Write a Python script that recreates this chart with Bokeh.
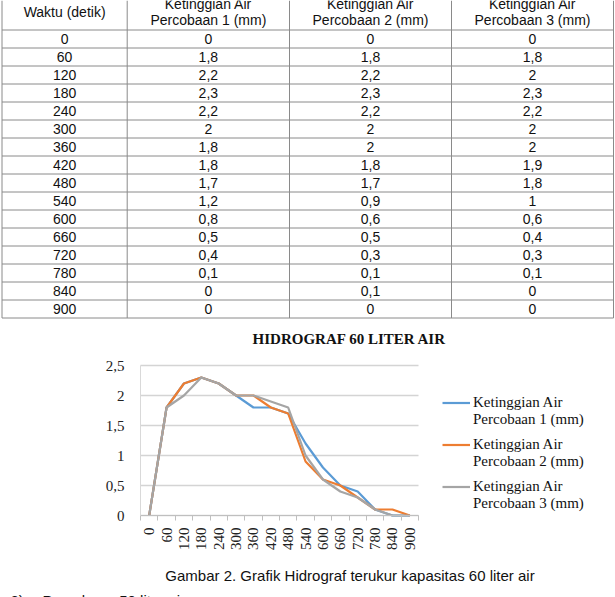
import math
from bokeh.plotting import figure
from bokeh.models import Range1d, FixedTicker, Legend, LegendItem
from bokeh.core.properties import value
from bokeh.embed import file_html
from bokeh.resources import INLINE

# ---------------- data ----------------
waktu = [0, 60, 120, 180, 240, 300, 360, 420, 480, 540, 600, 660, 720, 780, 840, 900]
percobaan1 = [0, 1.8, 2.2, 2.3, 2.2, 2, 1.8, 1.8, 1.7, 1.2, 0.8, 0.5, 0.4, 0.1, 0, 0]
percobaan2 = [0, 1.8, 2.2, 2.3, 2.2, 2, 2, 1.8, 1.7, 0.9, 0.6, 0.5, 0.3, 0.1, 0.1, 0]
percobaan3 = [0, 1.8, 2, 2.3, 2.2, 2, 2, 1.9, 1.8, 1, 0.6, 0.4, 0.3, 0.1, 0, 0]
header_first = "Waktu (detik)"
header_top = "Ketinggian Air"
header_bottom = ["Percobaan 1 (mm)", "Percobaan 2 (mm)", "Percobaan 3 (mm)"]
legend_line1 = ["Ketinggian Air", "Ketinggian Air", "Ketinggian Air"]
legend_line2 = ["Percobaan 1 (mm)", "Percobaan 2 (mm)", "Percobaan 3 (mm)"]
y_ticks = [0, 0.5, 1, 1.5, 2, 2.5]
chart_title = "HIDROGRAF 60 LITER AIR"
caption = "Gambar 2. Grafik Hidrograf terukur kapasitas 60 liter air"
next_num = "2)"
next_text = "Percobaan 50 liter air"
colors = ["#5B9BD5", "#ED7D31", "#A5A5A5"]

def fmt(v):
    return f"{v:g}".replace(".", ",")

SANS = value("Liberation Sans")
SERIF = "Liberation Serif"
TXT = "#111111"

# ---------------- page geometry ----------------
W, H = 615, 597
n = len(waktu)
FRAME_L, FRAME_R, FRAME_T, FRAME_B = 140, 418, 365, 515
YMAX = 2.5
PX_X = (FRAME_R - FRAME_L) / n
PX_Y = (FRAME_B - FRAME_T) / YMAX

p = figure(width=W, height=H, output_backend="svg", toolbar_location=None,
           x_range=Range1d(-FRAME_L / PX_X, (W - FRAME_L) / PX_X),
           y_range=Range1d(-(H - FRAME_B) / PX_Y, FRAME_B / PX_Y),
           min_border=0)
p.extra_x_ranges = {"page": Range1d(0, W)}
p.extra_y_ranges = {"page": Range1d(H, 0)}
p.outline_line_color = None
p.grid.visible = False
p.background_fill_color = "white"
p.border_fill_color = "white"

# ---------------- table ----------------
col_edges = [1.5, 126.7, 289, 451, 613]
col_centers = [(col_edges[i] + col_edges[i + 1]) / 2 for i in range(4)]
head_bottom = 29.5
row_h = 18.0
table_bottom = head_bottom + n * row_h
pg = dict(x_range_name="page", y_range_name="page")

p.segment(x0=col_edges, y0=[0] * 5, x1=col_edges, y1=[table_bottom] * 5,
          line_color="#8a8a8a", line_width=1, **pg)
ys = [head_bottom + i * row_h for i in range(n + 1)]
p.segment(x0=[col_edges[0]] * len(ys), y0=ys, x1=[col_edges[-1]] * len(ys), y1=ys,
          line_color="#8a8a8a", line_width=1, **pg)

p.text(x=[col_centers[0]], y=[11.7], text=[header_first], text_align="center",
       text_baseline="middle", text_font=SANS, text_font_size="14px", text_color=TXT, **pg)
p.text(x=col_centers[1:], y=[3.5] * 3, text=[header_top] * 3, text_align="center",
       text_baseline="middle", text_font=SANS, text_font_size="14px", text_color=TXT, **pg)
p.text(x=col_centers[1:], y=[19.5] * 3, text=header_bottom, text_align="center",
       text_baseline="middle", text_font=SANS, text_font_size="14px", text_color=TXT, **pg)

cx, cy, ct = [], [], []
for i in range(n):
    yc = head_bottom + row_h * i + row_h / 2
    row = [str(waktu[i]), fmt(percobaan1[i]), fmt(percobaan2[i]), fmt(percobaan3[i])]
    for j in range(4):
        cx.append(col_centers[j]); cy.append(yc); ct.append(row[j])
p.text(x=cx, y=cy, text=ct, text_align="center", text_baseline="middle",
       text_font=SANS, text_font_size="14px", text_color=TXT, **pg)

# ---------------- chart ----------------
p.segment(x0=[0] * len(y_ticks), x1=[n] * len(y_ticks), y0=y_ticks, y1=y_ticks,
          line_color="#d4d4d4", line_width=1.5)

xs = [i + 0.5 for i in range(n)]
rs = []
for ser, col in zip([percobaan1, percobaan2, percobaan3], colors):
    rs.append(p.line(xs, ser, line_color=col, line_width=2.2))

# y axis
p.yaxis.fixed_location = 0
p.yaxis.bounds = (0, YMAX)
p.yaxis.ticker = FixedTicker(ticks=y_ticks)
p.yaxis.major_label_overrides = {v: fmt(v) for v in y_ticks}
p.yaxis.major_tick_line_color = None
p.yaxis.minor_tick_line_color = None
p.yaxis.axis_line_color = "#d9d9d9"
p.yaxis.major_label_standoff = 10
p.yaxis.major_label_text_font = SERIF
p.yaxis.major_label_text_font_size = "15px"
p.yaxis.major_label_text_color = "#222222"

# x axis
p.xaxis.fixed_location = 0
p.xaxis.bounds = (0, n)
p.xaxis.ticker = FixedTicker(ticks=xs, minor_ticks=list(range(n + 1)))
p.xaxis.major_label_overrides = {x: str(w) for x, w in zip(xs, waktu)}
p.xaxis.major_tick_line_color = None
p.xaxis.major_tick_out = 0
p.xaxis.major_tick_in = 0
p.xaxis.minor_tick_line_color = "#bfbfbf"
p.xaxis.minor_tick_out = 5
p.xaxis.minor_tick_in = 0
p.xaxis.axis_line_color = "#bfbfbf"
p.xaxis.major_label_orientation = math.pi / 2
p.xaxis.major_label_standoff = 7
p.xaxis.major_label_text_font = SERIF
p.xaxis.major_label_text_font_size = "15px"
p.xaxis.major_label_text_color = "#222222"

# title, caption, following text (page coordinates)
p.text(x=[349], y=[338], text=[chart_title], text_align="center", text_baseline="middle",
       text_font=value(SERIF), text_font_style="bold", text_font_size="15px",
       text_color=TXT, **pg)
p.text(x=[349.5], y=[575], text=[caption], text_align="center", text_baseline="middle",
       text_font=SANS, text_font_size="15px", text_color=TXT, **pg)
p.text(x=[10, 42], y=[591, 591], text=[next_num, next_text], text_align="left",
       text_baseline="top", text_font=SANS, text_font_size="15px", text_color=TXT, **pg)

# legend: one small legend per series so the line sits beside the first text line
LEG_TOP = 393.5
LEG_STEP = 42
ITEM_H = 17
for k, r in enumerate(rs):
    bottom = LEG_TOP + LEG_STEP * k + 2 * ITEM_H
    lg = Legend(items=[LegendItem(label=legend_line1[k], renderers=[r]),
                       LegendItem(label=legend_line2[k], renderers=[])],
                location=(442, H - bottom), orientation="vertical",
                label_text_font=SERIF, label_text_font_size="15px", label_text_color=TXT,
                glyph_width=28, glyph_height=ITEM_H, label_height=ITEM_H,
                label_standoff=3, spacing=0,
                padding=0, margin=0, border_line_color=None, background_fill_alpha=0)
    p.add_layout(lg)

open("out.html", "w").write(file_html(p, INLINE))
